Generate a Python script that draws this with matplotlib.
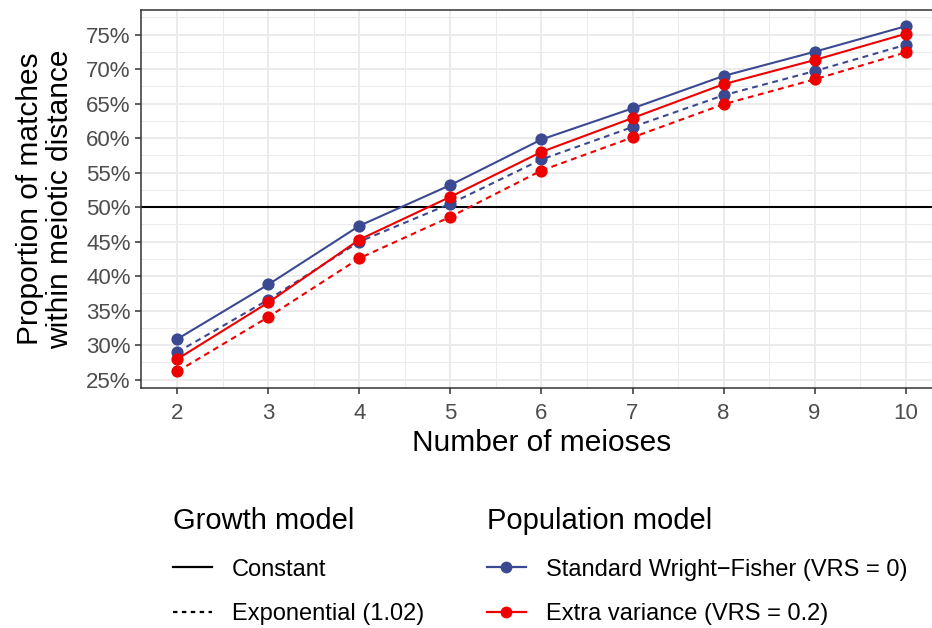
import matplotlib
matplotlib.use("Agg")
import matplotlib.pyplot as plt
from matplotlib.lines import Line2D
from matplotlib.ticker import FuncFormatter, MultipleLocator

plt.rcParams["font.family"] = ["Liberation Sans", "DejaVu Sans"]

meioses = [2, 3, 4, 5, 6, 7, 8, 9, 10]

# proportion (%) of matches within meiotic distance
swf_constant = [30.9, 38.8, 47.3, 53.2, 59.8, 64.3, 69.0, 72.5, 76.2]
swf_exponential = [29.0, 36.6, 45.0, 50.5, 56.9, 61.6, 66.2, 69.7, 73.5]
ev_constant = [28.0, 36.2, 45.3, 51.5, 58.0, 62.9, 67.8, 71.3, 75.1]
ev_exponential = [26.2, 34.1, 42.6, 48.6, 55.3, 60.1, 64.9, 68.5, 72.4]

threshold = 50

BLUE = "#3B4992"
RED = "#EE0000"
DASH = (2.8, 2.2)

fig = plt.figure(figsize=(9.32, 6.28), dpi=100)
# panel is cut off on the right side in the original
ax = fig.add_axes([141 / 932, 1 - 388 / 628, (942 - 141) / 932, (388 - 10) / 628])

ax.axhline(threshold, color="black", lw=1.5, zorder=2)

series = [
    (swf_constant, BLUE, "-"),
    (swf_exponential, BLUE, "--"),
    (ev_constant, RED, "-"),
    (ev_exponential, RED, "--"),
]
for vals, col, ls in series:
    line, = ax.plot(meioses, vals, color=col, lw=1.5, ls=ls, marker="o",
                    markersize=8.8, markeredgewidth=0, zorder=3)
    if ls == "--":
        line.set_dashes(DASH)

ax.set_xlim(1.6, 10.4)
ax.set_ylim(23.8, 78.55)
ax.xaxis.set_major_locator(MultipleLocator(1))
ax.xaxis.set_minor_locator(MultipleLocator(0.5))
ax.yaxis.set_major_locator(MultipleLocator(5))
ax.yaxis.set_minor_locator(MultipleLocator(2.5))
ax.yaxis.set_major_formatter(FuncFormatter(lambda v, p: f"{v:.0f}%"))

ax.grid(which="major", color="#EBEBEB", lw=1.4, zorder=0)
ax.grid(which="minor", color="#EBEBEB", lw=0.7, zorder=0)
ax.set_axisbelow(True)
for s in ax.spines.values():
    s.set_color("#333333")
    s.set_linewidth(1.1)

ax.tick_params(which="major", length=4.5, width=1.1, color="#333333",
               labelsize=16, labelcolor="#4D4D4D", pad=3)
ax.tick_params(axis="x", which="major", pad=6)
ax.tick_params(which="minor", length=0)

ax.set_xlabel("Number of meioses", fontsize=21.5, labelpad=4)
ax.set_ylabel("Proportion of matches\nwithin meiotic distance", fontsize=21.5,
              labelpad=9, linespacing=1.05)

growth_handles = [
    Line2D([], [], color="black", lw=1.6, ls="-"),
    Line2D([], [], color="black", lw=1.6, ls=(0, (2, 2))),
]
growth_labels = ["Constant", "Exponential (1.02)"]
pop_handles = [
    Line2D([], [], color=BLUE, lw=1.6, marker="o", markersize=8.5, markeredgewidth=0),
    Line2D([], [], color=RED, lw=1.6, marker="o", markersize=8.5, markeredgewidth=0),
]
pop_labels = ["Standard Wright\u2212Fisher (VRS = 0)", "Extra variance (VRS = 0.2)"]

leg_kw = dict(frameon=False, loc="upper left", alignment="left", fontsize=17,
              title_fontsize=21, handlelength=1.65, handletextpad=0.85,
              labelspacing=0.95, borderaxespad=0, borderpad=0)
leg1 = fig.legend(growth_handles, growth_labels, title="Growth model",
                  bbox_to_anchor=(173 / 932, 1 - 507 / 628), **leg_kw)
leg2 = fig.legend(pop_handles, pop_labels, title="Population model",
                  bbox_to_anchor=(487 / 932, 1 - 507 / 628), **leg_kw)
for leg in (leg1, leg2):
    leg._legend_box.sep = 17

fig.savefig("out.png", dpi=100)
